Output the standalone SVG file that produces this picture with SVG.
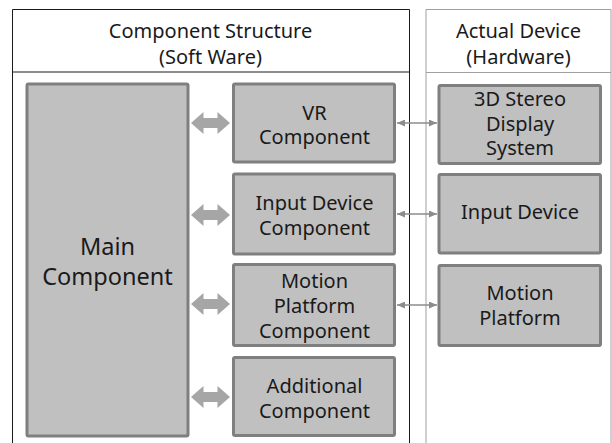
<svg xmlns="http://www.w3.org/2000/svg" width="612" height="443" viewBox="0 0 612 443">
<style>
  text { font-family: "Noto Sans", "Open Sans", "Liberation Sans", sans-serif; font-size: 20px; fill: #1a1a1a; text-anchor: middle; }
  .main text { font-size: 23.5px; }
  .box { fill: #c0c0c0; stroke: #7f7f7f; stroke-width: 3; }
  .fat { fill: #a6a6a6; }
  .thin { stroke: #8c8c8c; stroke-width: 1.5; fill: none; marker-start: url(#ah); marker-end: url(#ah); }
</style>
<defs>
  <marker id="ah" viewBox="0 0 10 10" refX="10" refY="5" markerWidth="8" markerHeight="7" markerUnits="userSpaceOnUse" orient="auto-start-reverse" preserveAspectRatio="none">
    <path d="M0,0 L10,5 L0,10 Z" fill="#8c8c8c"/>
  </marker>
  <path id="fatArrow" d="M-19.5,0 L-7,-11 L-7,-5 L7,-5 L7,-11 L19.5,0 L7,11 L7,5 L-7,5 L-7,11 Z"/>
</defs>
<rect width="612" height="443" fill="#ffffff"/>

<g id="panel-software">
  <path d="M12.5,443 V9.5 H409.5 V443" fill="none" stroke="#1a1a1a" stroke-width="1"/>
  <line x1="12.5" y1="72" x2="409.5" y2="72" stroke="#1a1a1a" stroke-width="1"/>
  <text x="210.5" y="38">Component Structure</text>
  <text x="210.5" y="64">(Soft Ware)</text>
</g>
<g id="panel-hardware">
  <path d="M426,443 V9.5 H611 V443" fill="none" stroke="#a0a0a0" stroke-width="1"/>
  <line x1="426" y1="72.5" x2="611" y2="72.5" stroke="#a0a0a0" stroke-width="1"/>
  <text x="518.5" y="37.5">Actual Device</text>
  <text x="518.5" y="63.5">(Hardware)</text>
</g>

<g id="main" class="main">
  <rect class="box" x="27" y="84" width="161" height="352" rx="1.5"/>
  <text x="107.5" y="255">Main</text>
  <text x="107.5" y="284.5">Component</text>
</g>

<g id="vr-component">
  <rect class="box" x="233.5" y="84" width="161" height="78" rx="1.5"/>
  <text x="314.5" y="119.5">VR</text>
  <text x="314.5" y="144">Component</text>
</g>
<g id="input-device-component">
  <rect class="box" x="233.5" y="174" width="161" height="80" rx="1.5"/>
  <text x="314.5" y="209.5">Input Device</text>
  <text x="314.5" y="235">Component</text>
</g>
<g id="motion-platform-component">
  <rect class="box" x="233.5" y="264.5" width="161" height="81" rx="1.5"/>
  <text x="314.5" y="287.5">Motion</text>
  <text x="314.5" y="312.5">Platform</text>
  <text x="314.5" y="337.5">Component</text>
</g>
<g id="additional-component">
  <rect class="box" x="233.5" y="357.5" width="161" height="78" rx="1.5"/>
  <text x="314.5" y="392.5">Additional</text>
  <text x="314.5" y="417.5">Component</text>
</g>

<g id="stereo-display">
  <rect class="box" x="439" y="85.5" width="161.5" height="78" rx="1.5"/>
  <text x="520" y="106">3D Stereo</text>
  <text x="520" y="130.5">Display</text>
  <text x="520" y="155">System</text>
</g>
<g id="input-device">
  <rect class="box" x="439" y="174.5" width="161.5" height="78.5" rx="1.5"/>
  <text x="520" y="219">Input Device</text>
</g>
<g id="motion-platform">
  <rect class="box" x="439" y="265.5" width="161.5" height="80" rx="1.5"/>
  <text x="520" y="300">Motion</text>
  <text x="520" y="325">Platform</text>
</g>

<g id="connectors">
  <use href="#fatArrow" class="fat" transform="translate(210.5,123)"/>
  <use href="#fatArrow" class="fat" transform="translate(210.5,215)"/>
  <use href="#fatArrow" class="fat" transform="translate(210.5,304)"/>
  <use href="#fatArrow" class="fat" transform="translate(210.5,397)"/>
  <line class="thin" x1="397" y1="123" x2="437" y2="123"/>
  <line class="thin" x1="397" y1="214" x2="437" y2="214"/>
  <line class="thin" x1="397" y1="305" x2="437" y2="305"/>
</g>
</svg>
